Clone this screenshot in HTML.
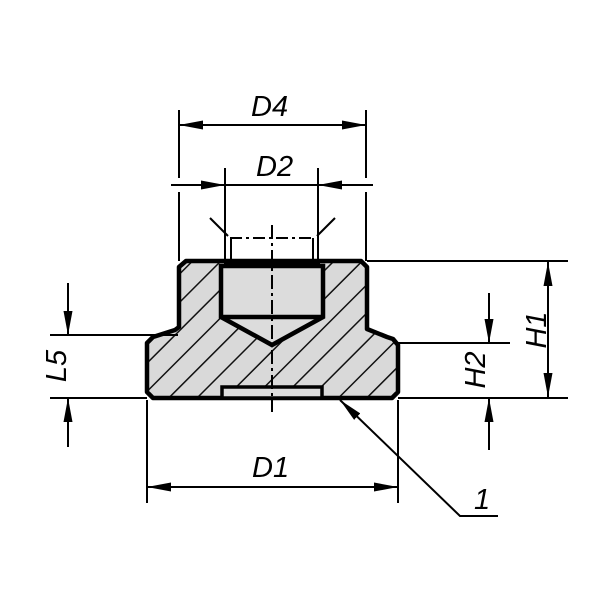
<!DOCTYPE html>
<html><head><meta charset="utf-8"><style>
html,body{margin:0;padding:0;background:#fff;}
svg{display:block;}
text{font-family:"Liberation Sans",sans-serif;font-style:italic;font-size:29px;fill:#000;}
</style></head><body>
<svg width="600" height="600" viewBox="0 0 600 600" xmlns="http://www.w3.org/2000/svg">
<defs>
<pattern id="h" patternUnits="userSpaceOnUse" width="20" height="20" patternTransform="rotate(45)">
<rect width="20" height="20" fill="#d9d9d9"/>
<line x1="0" y1="0" x2="0" y2="20" stroke="#111" stroke-width="3"/>
</pattern>
<marker id="a" viewBox="0 0 24 9" refX="24" refY="4.5" markerWidth="24" markerHeight="9" markerUnits="userSpaceOnUse" orient="auto-start-reverse">
<path d="M0,0 L24,4.5 L0,9 Z" fill="#000"/>
</marker>
</defs>
<path d="M186,261 L361,261 L367,267 L367,329 L387,337 L393,339 L398,345 L398,392 L392,398 L153,398 L147,392 L147,343 L153,337 L175,330 L179,327 L179,267 Z" fill="url(#h)" stroke="#000" stroke-width="4.5" stroke-linejoin="round"/>
<path d="M221,266 L323,266 L323,317 L272,345 L221,317 Z" fill="#dcdcdc" stroke="#000" stroke-width="4.5"/>
<path d="M221,317 L323,317" stroke="#000" stroke-width="4.5"/>
<line x1="224" y1="263" x2="320" y2="263" stroke="#000" stroke-width="2"/>
<rect x="222" y="387" width="100" height="11" fill="#dcdcdc" stroke="#000" stroke-width="3.5"/>
<line x1="272" y1="225" x2="272" y2="412" stroke="#000" stroke-width="2" stroke-dasharray="14,4,3,4"/>
<g stroke="#000" stroke-width="2" fill="none">
<line x1="225" y1="168" x2="225" y2="262"/>
<line x1="318" y1="168" x2="318" y2="262"/>
<line x1="210" y1="218" x2="228" y2="236"/>
<line x1="335" y1="218" x2="317" y2="236"/>
<line x1="230" y1="238" x2="315" y2="238" stroke-dasharray="12,4,3,4"/>
<line x1="231" y1="238" x2="231" y2="262"/>
<line x1="313" y1="238" x2="313" y2="262"/>
<line x1="179" y1="110" x2="179" y2="178"/>
<line x1="179" y1="192" x2="179" y2="261"/>
<line x1="366" y1="110" x2="366" y2="178"/>
<line x1="366" y1="192" x2="366" y2="261"/>
<line x1="179" y1="125" x2="366" y2="125" marker-end="url(#a)" marker-start="url(#a)"/>
<line x1="171" y1="185" x2="225" y2="185" marker-end="url(#a)"/>
<line x1="373" y1="185" x2="318" y2="185" marker-end="url(#a)"/>
<line x1="225" y1="185" x2="318" y2="185"/>
<line x1="367" y1="261" x2="568" y2="261"/>
<line x1="398" y1="398" x2="568" y2="398"/>
<line x1="548" y1="262" x2="548" y2="397" marker-end="url(#a)" marker-start="url(#a)"/>
<line x1="398" y1="343" x2="510" y2="343"/>
<line x1="489" y1="293" x2="489" y2="343" marker-end="url(#a)"/>
<line x1="489" y1="450" x2="489" y2="398" marker-end="url(#a)"/>
<line x1="50" y1="335" x2="178" y2="335"/>
<line x1="50" y1="398" x2="147" y2="398"/>
<line x1="68" y1="283" x2="68" y2="335" marker-end="url(#a)"/>
<line x1="68" y1="447" x2="68" y2="398" marker-end="url(#a)"/>
<line x1="147" y1="400" x2="147" y2="503"/>
<line x1="398" y1="400" x2="398" y2="503"/>
<line x1="147" y1="487" x2="398" y2="487" marker-end="url(#a)" marker-start="url(#a)"/>
<polyline points="498,516 460,516 340,400" marker-end="url(#a)"/>
</g>
<text x="251" y="116">D4</text>
<text x="256" y="176">D2</text>
<text x="252" y="477">D1</text>
<text x="474" y="509">1</text>
<text transform="translate(546,330) rotate(-90)" text-anchor="middle">H1</text>
<text transform="translate(485,370) rotate(-90)" text-anchor="middle">H2</text>
<text transform="translate(66,366) rotate(-90)" text-anchor="middle">L5</text>
</svg>
</body></html>
